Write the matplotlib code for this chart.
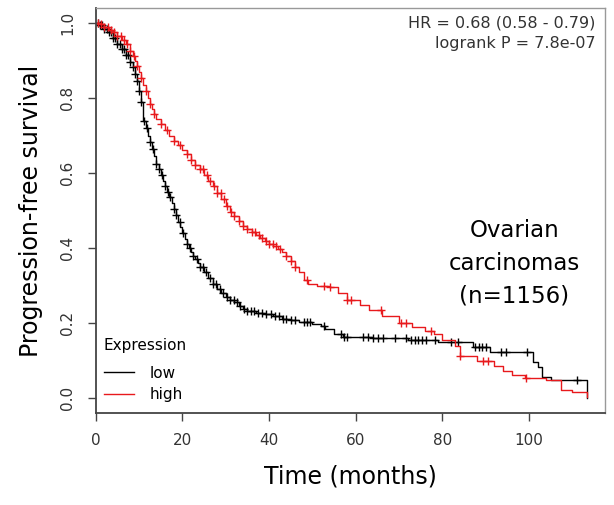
import matplotlib
matplotlib.use("Agg")

import matplotlib.pyplot as plt
import numpy as np

# ── data (Kaplan-Meier, progression-free survival) ──
low_time = [0, 1, 2, 3, 4, 5, 6, 7, 8, 8.5, 9, 9.5, 10, 10.5, 10.8, 11, 11.5, 12,
            12.5, 13, 13.5, 14, 14.5, 15, 15.5, 16, 16.5, 17, 17.5, 18, 18.5, 19,
            19.5, 20, 20.5, 21, 21.5, 22, 22.5, 23, 23.5, 24, 25, 26, 27, 28, 29,
            30, 31, 32, 33, 34, 35, 37, 39, 41, 43, 45, 47, 50, 52, 53, 55, 57, 64,
            72, 79, 87, 91, 101, 102, 103, 105, 113.5]
low_surv = [1.0, 0.995, 0.985, 0.975, 0.96, 0.945, 0.93, 0.915, 0.895, 0.882,
            0.865, 0.845, 0.82, 0.79, 0.755, 0.74, 0.72, 0.70, 0.683, 0.665, 0.645,
            0.625, 0.61, 0.595, 0.58, 0.565, 0.55, 0.535, 0.52, 0.505, 0.488, 0.47,
            0.455, 0.44, 0.425, 0.41, 0.40, 0.39, 0.38, 0.37, 0.36, 0.35, 0.335,
            0.32, 0.305, 0.29, 0.28, 0.27, 0.262, 0.255, 0.245, 0.238, 0.232,
            0.228, 0.225, 0.218, 0.212, 0.208, 0.203, 0.198, 0.192, 0.185, 0.172,
            0.163, 0.16, 0.155, 0.15, 0.136, 0.123, 0.096, 0.083, 0.056, 0.048,
            0.0]
low_censor = [0.5, 1, 1.5, 2, 2.5, 3, 3.5, 4, 4.5, 5, 5.5, 6, 6.5, 7, 7.5, 8, 8.5,
              9, 9.5, 10, 10.5, 11.2, 11.8, 12.5, 13.2, 14, 14.6, 15.3, 16, 16.6,
              17.2, 18, 18.6, 19.4, 20.2, 21, 21.8, 22.5, 23.3, 24, 24.8, 25.5,
              26.3, 27, 27.8, 28.6, 29.4, 30.2, 31, 31.8, 32.6, 33.4, 34.2, 35,
              35.8, 36.6, 37.4, 38.4, 39.4, 40.4, 41.4, 42.4, 43.2, 44, 45, 46,
              48, 48.8, 49.5, 52.6, 56.5, 57.2, 58, 61.7, 62.8, 64, 65.1, 66.3, 69,
              71.7, 72.8, 73.6, 74.4, 75.3, 76.2, 78.2, 82, 83.6, 87.5, 88.4, 89.2,
              90, 93.5, 94.7, 99.5, 111]

high_time = [0, 1, 2, 3, 4, 5, 6, 7, 8, 8.5, 9, 9.5, 10, 10.5, 11, 11.5, 12, 12.5,
             13, 13.5, 14, 15, 16, 17, 18, 19, 20, 21, 22, 23, 24, 25, 26, 27, 28,
             29, 30, 31, 32, 33, 34, 35, 36, 37, 38, 39, 40, 41, 42, 43, 44, 45, 46,
             47, 48, 49, 51, 54, 56, 58, 61, 63, 66, 70, 73, 76, 78, 80, 83, 84, 88,
             92, 94, 96, 99, 104, 107.5, 110, 113.5]
high_surv = [1.0, 0.997, 0.99, 0.982, 0.975, 0.965, 0.955, 0.945, 0.925, 0.912,
             0.9, 0.885, 0.87, 0.853, 0.835, 0.818, 0.8, 0.785, 0.77, 0.757, 0.745,
             0.73, 0.715, 0.70, 0.685, 0.675, 0.662, 0.65, 0.635, 0.622, 0.61,
             0.595, 0.58, 0.565, 0.548, 0.53, 0.512, 0.497, 0.485, 0.472, 0.46,
             0.45, 0.442, 0.435, 0.428, 0.42, 0.412, 0.405, 0.398, 0.39, 0.38,
             0.365, 0.35, 0.335, 0.315, 0.305, 0.298, 0.295, 0.28, 0.262, 0.248,
             0.235, 0.218, 0.2, 0.19, 0.178, 0.17, 0.155, 0.14, 0.112, 0.098, 0.085,
             0.072, 0.062, 0.053, 0.048, 0.022, 0.016, 0.003]
high_censor = [0.5, 1.2, 2, 2.8, 3.5, 4.3, 5, 5.8, 6.5, 7.3, 8, 8.8, 9.5, 10.5,
               11.5, 12.5, 13.5, 15, 16.5, 18, 19.5, 21, 22, 23, 24, 24.8, 25.6,
               26.4, 27.2, 28, 28.8, 29.6, 30.4, 31.2, 32, 33, 34, 35, 36, 36.8,
               37.6, 38.4, 39.2, 40, 40.8, 41.6, 42.5, 44, 45, 46, 48.7, 52.6, 54,
               58, 59, 65.8, 70.4, 71.5, 77.3, 84, 89.5, 90.6, 99.4]

x_ticks = [0, 20, 40, 60, 80, 100]
y_ticks = [0.0, 0.2, 0.4, 0.6, 0.8, 1.0]

hr_text = "HR = 0.68 (0.58 - 0.79)\nlogrank P = 7.8e-07"
cohort_text = "Ovarian\ncarcinomas\n(n=1156)"


def surv_at(times, surv, t):
    """step function lookup (value right after t)"""
    idx = np.searchsorted(times, t, side="right") - 1
    return np.asarray(surv)[idx]


fig = plt.figure(figsize=(6.14, 5.05), dpi=100)
ax = fig.add_axes([0.156, 0.182, 0.829, 0.802])

for times, surv, cens, col in [
    (low_time, low_surv, low_censor, "black"),
    (high_time, high_surv, high_censor, "#e8191c"),
]:
    ax.step(times, surv, where="post", color=col, linewidth=1.0)
    ax.plot(cens, surv_at(times, surv, cens), linestyle="none", marker="+",
            markersize=5.5, markeredgewidth=1.0, color=col)

ax.set_xlim(0, 117.5)
ax.set_ylim(-0.04, 1.04)
ax.set_xticks(x_ticks)
ax.set_yticks(y_ticks)
ax.set_yticklabels([f"{v:.1f}" for v in y_ticks], rotation=90, va="center")
ax.tick_params(axis="both", direction="out", length=6, width=1.0,
               colors="#444444", labelsize=11, labelcolor="#333333")
ax.tick_params(axis="x", pad=8)
ax.tick_params(axis="y", pad=9)

for side in ["top", "right"]:
    ax.spines[side].set_color("#999999")
    ax.spines[side].set_linewidth(1.0)
for side in ["left", "bottom"]:
    ax.spines[side].set_color("#444444")
    ax.spines[side].set_linewidth(1.3)

ax.set_xlabel("Time (months)", fontsize=17, labelpad=12)
ax.set_ylabel("Progression-free survival", fontsize=17, labelpad=12)

ax.text(0.982, 0.982, hr_text, transform=ax.transAxes, ha="right", va="top",
        fontsize=11.5, color="#333333", linespacing=1.45)
ax.text(0.822, 0.48, cohort_text, transform=ax.transAxes, ha="center", va="top",
        fontsize=16.5, color="black", linespacing=1.55)

ax.plot([], [], color="black", linewidth=1.0, label="low")
ax.plot([], [], color="#e8191c", linewidth=1.0, label="high")
handles, labels = ax.get_legend_handles_labels()
leg = ax.legend(handles[-2:], labels[-2:], title="Expression", loc="lower left",
                bbox_to_anchor=(-0.005, 0.0), frameon=False, fontsize=11,
                title_fontsize=11, handlelength=2.0, handletextpad=1.0,
                borderaxespad=0.3, labelspacing=0.45)
leg._legend_box.align = "left"
leg._legend_box.sep = 9

plt.savefig("out.png", dpi=100, facecolor="white")
plt.close(fig)
